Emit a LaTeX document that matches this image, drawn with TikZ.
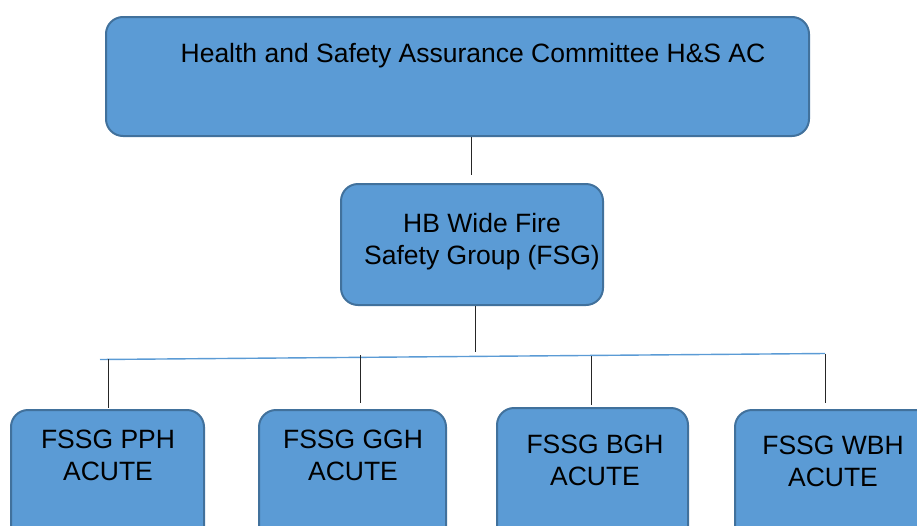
\documentclass[tikz,border=0pt]{standalone}
\usepackage{fontspec}
\setmainfont{Liberation Sans}
\definecolor{boxfill}{HTML}{5B9BD5}
\definecolor{boxedge}{HTML}{41719C}
\definecolor{busline}{HTML}{5B9BD5}
\tikzset{
  orgbox/.style={draw=boxedge, fill=boxfill, line width=2pt, rounded corners=17pt, inner sep=0pt},
  lbl/.style={font=\fontsize{26.5}{32}\selectfont, align=center, inner sep=0pt},
  tick/.style={draw=black!85, line width=1pt},
  bus/.style={draw=busline, line width=1.4pt}
}
\begin{document}
\begin{tikzpicture}[x=1pt,y=-1pt]
\useasboundingbox (0,0) rectangle (917,525);
\clip (0,0) rectangle (917,525);
% boxes
\node[orgbox, minimum width=703pt, minimum height=119pt] (top) at (457.5,76.5) {};
\node[orgbox, minimum width=262pt, minimum height=121pt] (mid) at (472,244.5) {};
\node[orgbox, minimum width=193pt, minimum height=140pt] (b1) at (107.5,480) {};
\node[orgbox, minimum width=187pt, minimum height=140pt] (b2) at (352.5,480) {};
\node[orgbox, minimum width=191pt, minimum height=140pt] (b3) at (592.5,478) {};
\node[orgbox, minimum width=200pt, minimum height=140pt] (b4) at (835,480) {};
% labels
\node[lbl] (ttop) at (473,56) {Health and Safety Assurance Committee H\&S AC};
\node[lbl] (tmid) at (482,242) {HB Wide Fire\\Safety Group (FSG)};
\node[lbl] (t1) at (108,455) {FSSG PPH\\ACUTE};
\node[lbl] (t2) at (353,455) {FSSG GGH\\ACUTE};
\node[lbl] (t3) at (595,460) {FSSG BGH\\ACUTE};
\node[lbl] (t4) at (833,461) {FSSG WBH\\ACUTE};
% connectors
\coordinate (c1a) at (471,137);
\coordinate (c1b) at (471,175);
\draw[tick] (c1a) -- (c1b);
\coordinate (c2a) at (475,306);
\coordinate (c2b) at (475,352);
\draw[tick] (c2a) -- (c2b);
\coordinate (busL) at (100,359.5);
\coordinate (busR) at (825,353.5);
\draw[bus] (busL) -- (busR);
\coordinate (v1a) at (108,359); \coordinate (v1b) at (108,408);
\coordinate (v2a) at (360,355); \coordinate (v2b) at (360,403);
\coordinate (v3a) at (591,356); \coordinate (v3b) at (591,405);
\coordinate (v4a) at (825,354); \coordinate (v4b) at (825,403);
\draw[tick] (v1a) -- (v1b);
\draw[tick] (v2a) -- (v2b);
\draw[tick] (v3a) -- (v3b);
\draw[tick] (v4a) -- (v4b);
\end{tikzpicture}
\end{document}
